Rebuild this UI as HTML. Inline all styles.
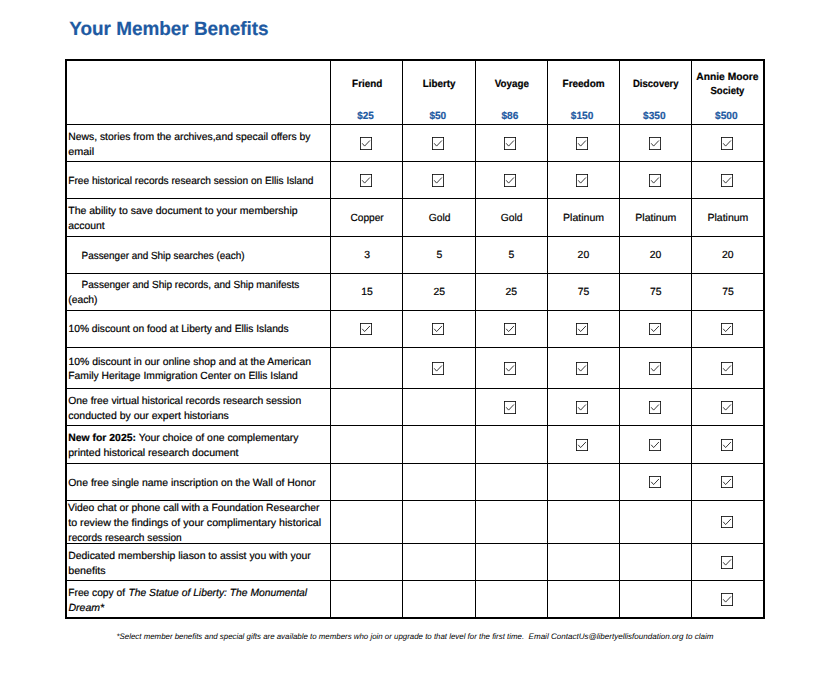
<!DOCTYPE html>
<html lang="en">
<head>
<meta charset="utf-8">
<title>Your Member Benefits</title>
<style>
html,body{margin:0;padding:0;background:#fff}
#pg{position:relative;width:836px;height:682px;overflow:hidden;background:#fff;font-family:"Liberation Sans", sans-serif;color:#000}
.t{position:absolute;white-space:pre;line-height:1;transform-origin:0 0;text-rendering:geometricPrecision;-webkit-text-stroke:0.2px currentColor;font-size:10.4px}
.h,.v,.f{position:absolute;background:#000}
.h{left:65px;width:700px;height:1px}.v{top:59px;height:560px;width:1px}
.c{position:absolute;width:12px;overflow:visible}
.u{color:#1e5aa2}
.n{-webkit-text-stroke:0}
</style>
</head>
<body>
<div id="pg">
<div class="f" style="left:65px;top:59px;width:700px;height:2px"></div>
<div class="f" style="left:65px;top:617px;width:700px;height:2px"></div>
<div class="f" style="left:65px;top:59px;width:2px;height:560px"></div>
<div class="f" style="left:763px;top:59px;width:2px;height:560px"></div>
<div class="h" style="top:124px"></div>
<div class="h" style="top:161px"></div>
<div class="h" style="top:198px"></div>
<div class="h" style="top:236px"></div>
<div class="h" style="top:273px"></div>
<div class="h" style="top:310px"></div>
<div class="h" style="top:347px"></div>
<div class="h" style="top:388px"></div>
<div class="h" style="top:425px"></div>
<div class="h" style="top:463px"></div>
<div class="h" style="top:500px"></div>
<div class="h" style="top:543px"></div>
<div class="h" style="top:580px"></div>
<div class="v" style="left:330px"></div>
<div class="v" style="left:402px"></div>
<div class="v" style="left:475px"></div>
<div class="v" style="left:547px"></div>
<div class="v" style="left:619px"></div>
<div class="v" style="left:691px"></div>
<svg class="c" style="left:360px;top:137px;height:13px" viewBox="0 0 12 13" width="12" height="13"><rect x=".5" y=".5" width="11" height="12" fill="#fff" stroke="#363636" stroke-width="1"/><path d="M0 0h1v1h-1zM11 0h1v1h-1zM0 12h1v1h-1zM11 12h1v1h-1z" fill="#111"/><path d="M2.2 6.3 L4.6 9.1 L9.9 3.5" fill="none" stroke="#3a3a3a" stroke-width="1"/></svg>
<svg class="c" style="left:432px;top:137px;height:13px" viewBox="0 0 12 13" width="12" height="13"><rect x=".5" y=".5" width="11" height="12" fill="#fff" stroke="#363636" stroke-width="1"/><path d="M0 0h1v1h-1zM11 0h1v1h-1zM0 12h1v1h-1zM11 12h1v1h-1z" fill="#111"/><path d="M2.2 6.3 L4.6 9.1 L9.9 3.5" fill="none" stroke="#3a3a3a" stroke-width="1"/></svg>
<svg class="c" style="left:504px;top:137px;height:13px" viewBox="0 0 12 13" width="12" height="13"><rect x=".5" y=".5" width="11" height="12" fill="#fff" stroke="#363636" stroke-width="1"/><path d="M0 0h1v1h-1zM11 0h1v1h-1zM0 12h1v1h-1zM11 12h1v1h-1z" fill="#111"/><path d="M2.2 6.3 L4.6 9.1 L9.9 3.5" fill="none" stroke="#3a3a3a" stroke-width="1"/></svg>
<svg class="c" style="left:576px;top:137px;height:13px" viewBox="0 0 12 13" width="12" height="13"><rect x=".5" y=".5" width="11" height="12" fill="#fff" stroke="#363636" stroke-width="1"/><path d="M0 0h1v1h-1zM11 0h1v1h-1zM0 12h1v1h-1zM11 12h1v1h-1z" fill="#111"/><path d="M2.2 6.3 L4.6 9.1 L9.9 3.5" fill="none" stroke="#3a3a3a" stroke-width="1"/></svg>
<svg class="c" style="left:649px;top:137px;height:13px" viewBox="0 0 12 13" width="12" height="13"><rect x=".5" y=".5" width="11" height="12" fill="#fff" stroke="#363636" stroke-width="1"/><path d="M0 0h1v1h-1zM11 0h1v1h-1zM0 12h1v1h-1zM11 12h1v1h-1z" fill="#111"/><path d="M2.2 6.3 L4.6 9.1 L9.9 3.5" fill="none" stroke="#3a3a3a" stroke-width="1"/></svg>
<svg class="c" style="left:721px;top:137px;height:13px" viewBox="0 0 12 13" width="12" height="13"><rect x=".5" y=".5" width="11" height="12" fill="#fff" stroke="#363636" stroke-width="1"/><path d="M0 0h1v1h-1zM11 0h1v1h-1zM0 12h1v1h-1zM11 12h1v1h-1z" fill="#111"/><path d="M2.2 6.3 L4.6 9.1 L9.9 3.5" fill="none" stroke="#3a3a3a" stroke-width="1"/></svg>
<svg class="c" style="left:360px;top:174px;height:13px" viewBox="0 0 12 13" width="12" height="13"><rect x=".5" y=".5" width="11" height="12" fill="#fff" stroke="#363636" stroke-width="1"/><path d="M0 0h1v1h-1zM11 0h1v1h-1zM0 12h1v1h-1zM11 12h1v1h-1z" fill="#111"/><path d="M2.2 6.3 L4.6 9.1 L9.9 3.5" fill="none" stroke="#3a3a3a" stroke-width="1"/></svg>
<svg class="c" style="left:432px;top:174px;height:13px" viewBox="0 0 12 13" width="12" height="13"><rect x=".5" y=".5" width="11" height="12" fill="#fff" stroke="#363636" stroke-width="1"/><path d="M0 0h1v1h-1zM11 0h1v1h-1zM0 12h1v1h-1zM11 12h1v1h-1z" fill="#111"/><path d="M2.2 6.3 L4.6 9.1 L9.9 3.5" fill="none" stroke="#3a3a3a" stroke-width="1"/></svg>
<svg class="c" style="left:504px;top:174px;height:13px" viewBox="0 0 12 13" width="12" height="13"><rect x=".5" y=".5" width="11" height="12" fill="#fff" stroke="#363636" stroke-width="1"/><path d="M0 0h1v1h-1zM11 0h1v1h-1zM0 12h1v1h-1zM11 12h1v1h-1z" fill="#111"/><path d="M2.2 6.3 L4.6 9.1 L9.9 3.5" fill="none" stroke="#3a3a3a" stroke-width="1"/></svg>
<svg class="c" style="left:576px;top:174px;height:13px" viewBox="0 0 12 13" width="12" height="13"><rect x=".5" y=".5" width="11" height="12" fill="#fff" stroke="#363636" stroke-width="1"/><path d="M0 0h1v1h-1zM11 0h1v1h-1zM0 12h1v1h-1zM11 12h1v1h-1z" fill="#111"/><path d="M2.2 6.3 L4.6 9.1 L9.9 3.5" fill="none" stroke="#3a3a3a" stroke-width="1"/></svg>
<svg class="c" style="left:649px;top:174px;height:13px" viewBox="0 0 12 13" width="12" height="13"><rect x=".5" y=".5" width="11" height="12" fill="#fff" stroke="#363636" stroke-width="1"/><path d="M0 0h1v1h-1zM11 0h1v1h-1zM0 12h1v1h-1zM11 12h1v1h-1z" fill="#111"/><path d="M2.2 6.3 L4.6 9.1 L9.9 3.5" fill="none" stroke="#3a3a3a" stroke-width="1"/></svg>
<svg class="c" style="left:721px;top:174px;height:13px" viewBox="0 0 12 13" width="12" height="13"><rect x=".5" y=".5" width="11" height="12" fill="#fff" stroke="#363636" stroke-width="1"/><path d="M0 0h1v1h-1zM11 0h1v1h-1zM0 12h1v1h-1zM11 12h1v1h-1z" fill="#111"/><path d="M2.2 6.3 L4.6 9.1 L9.9 3.5" fill="none" stroke="#3a3a3a" stroke-width="1"/></svg>
<svg class="c" style="left:360px;top:323px;height:12px" viewBox="0 0 12 12" width="12" height="12"><rect x=".5" y=".5" width="11" height="11" fill="#fff" stroke="#363636" stroke-width="1"/><path d="M0 0h1v1h-1zM11 0h1v1h-1zM0 11h1v1h-1zM11 11h1v1h-1z" fill="#111"/><path d="M2.2 5.8 L4.6 8.6 L9.9 3.0" fill="none" stroke="#3a3a3a" stroke-width="1"/></svg>
<svg class="c" style="left:432px;top:323px;height:12px" viewBox="0 0 12 12" width="12" height="12"><rect x=".5" y=".5" width="11" height="11" fill="#fff" stroke="#363636" stroke-width="1"/><path d="M0 0h1v1h-1zM11 0h1v1h-1zM0 11h1v1h-1zM11 11h1v1h-1z" fill="#111"/><path d="M2.2 5.8 L4.6 8.6 L9.9 3.0" fill="none" stroke="#3a3a3a" stroke-width="1"/></svg>
<svg class="c" style="left:504px;top:323px;height:12px" viewBox="0 0 12 12" width="12" height="12"><rect x=".5" y=".5" width="11" height="11" fill="#fff" stroke="#363636" stroke-width="1"/><path d="M0 0h1v1h-1zM11 0h1v1h-1zM0 11h1v1h-1zM11 11h1v1h-1z" fill="#111"/><path d="M2.2 5.8 L4.6 8.6 L9.9 3.0" fill="none" stroke="#3a3a3a" stroke-width="1"/></svg>
<svg class="c" style="left:576px;top:323px;height:12px" viewBox="0 0 12 12" width="12" height="12"><rect x=".5" y=".5" width="11" height="11" fill="#fff" stroke="#363636" stroke-width="1"/><path d="M0 0h1v1h-1zM11 0h1v1h-1zM0 11h1v1h-1zM11 11h1v1h-1z" fill="#111"/><path d="M2.2 5.8 L4.6 8.6 L9.9 3.0" fill="none" stroke="#3a3a3a" stroke-width="1"/></svg>
<svg class="c" style="left:649px;top:323px;height:12px" viewBox="0 0 12 12" width="12" height="12"><rect x=".5" y=".5" width="11" height="11" fill="#fff" stroke="#363636" stroke-width="1"/><path d="M0 0h1v1h-1zM11 0h1v1h-1zM0 11h1v1h-1zM11 11h1v1h-1z" fill="#111"/><path d="M2.2 5.8 L4.6 8.6 L9.9 3.0" fill="none" stroke="#3a3a3a" stroke-width="1"/></svg>
<svg class="c" style="left:721px;top:323px;height:12px" viewBox="0 0 12 12" width="12" height="12"><rect x=".5" y=".5" width="11" height="11" fill="#fff" stroke="#363636" stroke-width="1"/><path d="M0 0h1v1h-1zM11 0h1v1h-1zM0 11h1v1h-1zM11 11h1v1h-1z" fill="#111"/><path d="M2.2 5.8 L4.6 8.6 L9.9 3.0" fill="none" stroke="#3a3a3a" stroke-width="1"/></svg>
<svg class="c" style="left:432px;top:362px;height:13px" viewBox="0 0 12 13" width="12" height="13"><rect x=".5" y=".5" width="11" height="12" fill="#fff" stroke="#363636" stroke-width="1"/><path d="M0 0h1v1h-1zM11 0h1v1h-1zM0 12h1v1h-1zM11 12h1v1h-1z" fill="#111"/><path d="M2.2 6.3 L4.6 9.1 L9.9 3.5" fill="none" stroke="#3a3a3a" stroke-width="1"/></svg>
<svg class="c" style="left:504px;top:362px;height:13px" viewBox="0 0 12 13" width="12" height="13"><rect x=".5" y=".5" width="11" height="12" fill="#fff" stroke="#363636" stroke-width="1"/><path d="M0 0h1v1h-1zM11 0h1v1h-1zM0 12h1v1h-1zM11 12h1v1h-1z" fill="#111"/><path d="M2.2 6.3 L4.6 9.1 L9.9 3.5" fill="none" stroke="#3a3a3a" stroke-width="1"/></svg>
<svg class="c" style="left:576px;top:362px;height:13px" viewBox="0 0 12 13" width="12" height="13"><rect x=".5" y=".5" width="11" height="12" fill="#fff" stroke="#363636" stroke-width="1"/><path d="M0 0h1v1h-1zM11 0h1v1h-1zM0 12h1v1h-1zM11 12h1v1h-1z" fill="#111"/><path d="M2.2 6.3 L4.6 9.1 L9.9 3.5" fill="none" stroke="#3a3a3a" stroke-width="1"/></svg>
<svg class="c" style="left:649px;top:362px;height:13px" viewBox="0 0 12 13" width="12" height="13"><rect x=".5" y=".5" width="11" height="12" fill="#fff" stroke="#363636" stroke-width="1"/><path d="M0 0h1v1h-1zM11 0h1v1h-1zM0 12h1v1h-1zM11 12h1v1h-1z" fill="#111"/><path d="M2.2 6.3 L4.6 9.1 L9.9 3.5" fill="none" stroke="#3a3a3a" stroke-width="1"/></svg>
<svg class="c" style="left:721px;top:362px;height:13px" viewBox="0 0 12 13" width="12" height="13"><rect x=".5" y=".5" width="11" height="12" fill="#fff" stroke="#363636" stroke-width="1"/><path d="M0 0h1v1h-1zM11 0h1v1h-1zM0 12h1v1h-1zM11 12h1v1h-1z" fill="#111"/><path d="M2.2 6.3 L4.6 9.1 L9.9 3.5" fill="none" stroke="#3a3a3a" stroke-width="1"/></svg>
<svg class="c" style="left:504px;top:401px;height:13px" viewBox="0 0 12 13" width="12" height="13"><rect x=".5" y=".5" width="11" height="12" fill="#fff" stroke="#363636" stroke-width="1"/><path d="M0 0h1v1h-1zM11 0h1v1h-1zM0 12h1v1h-1zM11 12h1v1h-1z" fill="#111"/><path d="M2.2 6.3 L4.6 9.1 L9.9 3.5" fill="none" stroke="#3a3a3a" stroke-width="1"/></svg>
<svg class="c" style="left:576px;top:401px;height:13px" viewBox="0 0 12 13" width="12" height="13"><rect x=".5" y=".5" width="11" height="12" fill="#fff" stroke="#363636" stroke-width="1"/><path d="M0 0h1v1h-1zM11 0h1v1h-1zM0 12h1v1h-1zM11 12h1v1h-1z" fill="#111"/><path d="M2.2 6.3 L4.6 9.1 L9.9 3.5" fill="none" stroke="#3a3a3a" stroke-width="1"/></svg>
<svg class="c" style="left:649px;top:401px;height:13px" viewBox="0 0 12 13" width="12" height="13"><rect x=".5" y=".5" width="11" height="12" fill="#fff" stroke="#363636" stroke-width="1"/><path d="M0 0h1v1h-1zM11 0h1v1h-1zM0 12h1v1h-1zM11 12h1v1h-1z" fill="#111"/><path d="M2.2 6.3 L4.6 9.1 L9.9 3.5" fill="none" stroke="#3a3a3a" stroke-width="1"/></svg>
<svg class="c" style="left:721px;top:401px;height:13px" viewBox="0 0 12 13" width="12" height="13"><rect x=".5" y=".5" width="11" height="12" fill="#fff" stroke="#363636" stroke-width="1"/><path d="M0 0h1v1h-1zM11 0h1v1h-1zM0 12h1v1h-1zM11 12h1v1h-1z" fill="#111"/><path d="M2.2 6.3 L4.6 9.1 L9.9 3.5" fill="none" stroke="#3a3a3a" stroke-width="1"/></svg>
<svg class="c" style="left:576px;top:439px;height:12px" viewBox="0 0 12 12" width="12" height="12"><rect x=".5" y=".5" width="11" height="11" fill="#fff" stroke="#363636" stroke-width="1"/><path d="M0 0h1v1h-1zM11 0h1v1h-1zM0 11h1v1h-1zM11 11h1v1h-1z" fill="#111"/><path d="M2.2 5.8 L4.6 8.6 L9.9 3.0" fill="none" stroke="#3a3a3a" stroke-width="1"/></svg>
<svg class="c" style="left:649px;top:439px;height:12px" viewBox="0 0 12 12" width="12" height="12"><rect x=".5" y=".5" width="11" height="11" fill="#fff" stroke="#363636" stroke-width="1"/><path d="M0 0h1v1h-1zM11 0h1v1h-1zM0 11h1v1h-1zM11 11h1v1h-1z" fill="#111"/><path d="M2.2 5.8 L4.6 8.6 L9.9 3.0" fill="none" stroke="#3a3a3a" stroke-width="1"/></svg>
<svg class="c" style="left:721px;top:439px;height:12px" viewBox="0 0 12 12" width="12" height="12"><rect x=".5" y=".5" width="11" height="11" fill="#fff" stroke="#363636" stroke-width="1"/><path d="M0 0h1v1h-1zM11 0h1v1h-1zM0 11h1v1h-1zM11 11h1v1h-1z" fill="#111"/><path d="M2.2 5.8 L4.6 8.6 L9.9 3.0" fill="none" stroke="#3a3a3a" stroke-width="1"/></svg>
<svg class="c" style="left:649px;top:476px;height:12px" viewBox="0 0 12 12" width="12" height="12"><rect x=".5" y=".5" width="11" height="11" fill="#fff" stroke="#363636" stroke-width="1"/><path d="M0 0h1v1h-1zM11 0h1v1h-1zM0 11h1v1h-1zM11 11h1v1h-1z" fill="#111"/><path d="M2.2 5.8 L4.6 8.6 L9.9 3.0" fill="none" stroke="#3a3a3a" stroke-width="1"/></svg>
<svg class="c" style="left:721px;top:476px;height:12px" viewBox="0 0 12 12" width="12" height="12"><rect x=".5" y=".5" width="11" height="11" fill="#fff" stroke="#363636" stroke-width="1"/><path d="M0 0h1v1h-1zM11 0h1v1h-1zM0 11h1v1h-1zM11 11h1v1h-1z" fill="#111"/><path d="M2.2 5.8 L4.6 8.6 L9.9 3.0" fill="none" stroke="#3a3a3a" stroke-width="1"/></svg>
<svg class="c" style="left:721px;top:516px;height:12px" viewBox="0 0 12 12" width="12" height="12"><rect x=".5" y=".5" width="11" height="11" fill="#fff" stroke="#363636" stroke-width="1"/><path d="M0 0h1v1h-1zM11 0h1v1h-1zM0 11h1v1h-1zM11 11h1v1h-1z" fill="#111"/><path d="M2.2 5.8 L4.6 8.6 L9.9 3.0" fill="none" stroke="#3a3a3a" stroke-width="1"/></svg>
<svg class="c" style="left:721px;top:556px;height:13px" viewBox="0 0 12 13" width="12" height="13"><rect x=".5" y=".5" width="11" height="12" fill="#fff" stroke="#363636" stroke-width="1"/><path d="M0 0h1v1h-1zM11 0h1v1h-1zM0 12h1v1h-1zM11 12h1v1h-1z" fill="#111"/><path d="M2.2 6.3 L4.6 9.1 L9.9 3.5" fill="none" stroke="#3a3a3a" stroke-width="1"/></svg>
<svg class="c" style="left:721px;top:593px;height:13px" viewBox="0 0 12 13" width="12" height="13"><rect x=".5" y=".5" width="11" height="12" fill="#fff" stroke="#363636" stroke-width="1"/><path d="M0 0h1v1h-1zM11 0h1v1h-1zM0 12h1v1h-1zM11 12h1v1h-1z" fill="#111"/><path d="M2.2 6.3 L4.6 9.1 L9.9 3.5" fill="none" stroke="#3a3a3a" stroke-width="1"/></svg>
<div class="t u" style="left:69px;top:20px;transform:translateX(0.31px) scaleX(0.9802);font-size:19.3px"><b>Your Member Benefits</b></div>
<div class="t" style="left:68px;top:133px;transform:translateX(0.25px) scaleX(0.9969)">News, stories from the archives,and specail offers by</div>
<div class="t" style="left:68px;top:148px;transform:translateX(0.23px) scaleX(1.0421)">email</div>
<div class="t" style="left:68px;top:177px;transform:translateX(0.27px) scaleX(0.9762)">Free historical records research session on Ellis Island</div>
<div class="t" style="left:68px;top:207px;transform:translateX(0.25px) scaleX(1.0104)">The ability to save document to your membership</div>
<div class="t" style="left:68px;top:222px;transform:translateX(0.25px) scaleX(1.0000)">account</div>
<div class="t" style="left:81px;top:252px;transform:translateX(0.58px) scaleX(0.9534)">Passenger and Ship searches (each)</div>
<div class="t" style="left:81px;top:281px;transform:translateX(0.57px) scaleX(0.9668)">Passenger and Ship records, and Ship manifests</div>
<div class="t" style="left:68px;top:296px;transform:translateX(0.26px) scaleX(0.9929)">(each)</div>
<div class="t" style="left:68px;top:325px;transform:translateX(0.51px) scaleX(0.9849)">10% discount on food at Liberty and Ellis Islands</div>
<div class="t" style="left:68px;top:358px;transform:translateX(0.50px) scaleX(1.0000)">10% discount in our online shop and at the American</div>
<div class="t" style="left:68px;top:372px;transform:translateX(0.25px) scaleX(0.9939)">Family Heritage Immigration Center on Ellis Island</div>
<div class="t" style="left:68px;top:397px;transform:translateX(0.25px) scaleX(0.9957)">One free virtual historical records research session</div>
<div class="t" style="left:68px;top:412px;transform:translateX(0.24px) scaleX(1.0111)">conducted by our expert historians</div>
<div class="t" style="left:68px;top:434px;transform:translateX(0.25px) scaleX(1.0017)"><b>New for 2025:</b> Your choice of one complementary</div>
<div class="t" style="left:68px;top:449px;transform:translateX(0.24px) scaleX(1.0165)">printed historical research document</div>
<div class="t" style="left:68px;top:479px;transform:translateX(0.25px) scaleX(1.0051)">One free single name inscription on the Wall of Honor</div>
<div class="t" style="left:68px;top:504px;transform:translateX(0.00px) scaleX(0.9950)">Video chat or phone call with a Foundation Researcher</div>
<div class="t" style="left:68px;top:519px;transform:translateX(0.24px) scaleX(1.0254)">to review the findings of your complimentary historical</div>
<div class="t" style="left:68px;top:534px;transform:translateX(0.27px) scaleX(0.9778)">records research session</div>
<div class="t" style="left:68px;top:552px;transform:translateX(0.25px) scaleX(1.0021)">Dedicated membership liason to assist you with your</div>
<div class="t" style="left:68px;top:567px;transform:translateX(0.23px) scaleX(1.0270)">benefits</div>
<div class="t" style="left:68px;top:589px;transform:translateX(0.26px) scaleX(0.9825)">Free copy of</div>
<div class="t" style="left:128px;top:589px;transform:translateX(0.41px) scaleX(0.9916)"><i>The Statue of Liberty: The Monumental</i></div>
<div class="t" style="left:68px;top:604px;transform:translateX(0.50px) scaleX(1.0142)"><i>Dream*</i></div>
<div class="t n" style="left:116px;top:633px;transform:translateX(0.51px) scaleX(0.9845);font-size:8.0px"><i>*Select member benefits and special gifts are available to members who join or upgrade to that level for the first time.</i></div>
<div class="t n" style="left:528px;top:633px;transform:translateX(0.55px) scaleX(1.0066);font-size:8.0px"><i>Email ContactUs@libertyellisfoundation.org to claim</i></div>
<div class="t" style="left:352px;top:80px;transform:translateX(0.11px) scaleX(0.9504)"><b>Friend</b></div>
<div class="t" style="left:422px;top:80px;transform:translateX(0.74px) scaleX(0.9481)"><b>Liberty</b></div>
<div class="t" style="left:494px;top:80px;transform:translateX(0.71px) scaleX(0.9437)"><b>Voyage</b></div>
<div class="t" style="left:562px;top:80px;transform:translateX(0.56px) scaleX(0.9588)"><b>Freedom</b></div>
<div class="t" style="left:632px;top:80px;transform:translateX(0.94px) scaleX(0.9179)"><b>Discovery</b></div>
<div class="t" style="left:696px;top:73px;transform:translateX(0.30px) scaleX(0.9880)"><b>Annie Moore</b></div>
<div class="t" style="left:710px;top:87px;transform:translateX(0.49px) scaleX(0.9178)"><b>Society</b></div>
<div class="t u" style="left:357px;top:112px;transform:translateX(0.26px) scaleX(0.9552)"><b>$25</b></div>
<div class="t u" style="left:429px;top:112px;transform:translateX(0.38px) scaleX(0.9701)"><b>$50</b></div>
<div class="t u" style="left:501px;top:112px;transform:translateX(0.48px) scaleX(0.9701)"><b>$86</b></div>
<div class="t u" style="left:570px;top:112px;transform:translateX(0.81px) scaleX(0.9778)"><b>$150</b></div>
<div class="t u" style="left:643px;top:112px;transform:translateX(0.06px) scaleX(0.9778)"><b>$350</b></div>
<div class="t u" style="left:715px;top:112px;transform:translateX(0.01px) scaleX(0.9778)"><b>$500</b></div>
<div class="t" style="left:350px;top:214px;transform:translateX(0.39px) scaleX(0.9776)">Copper</div>
<div class="t" style="left:428px;top:214px;transform:translateX(0.76px) scaleX(0.9880)">Gold</div>
<div class="t" style="left:500px;top:214px;transform:translateX(0.71px) scaleX(0.9880)">Gold</div>
<div class="t" style="left:563px;top:214px;transform:translateX(0.09px) scaleX(1.0128)">Platinum</div>
<div class="t" style="left:635px;top:214px;transform:translateX(0.34px) scaleX(1.0128)">Platinum</div>
<div class="t" style="left:707px;top:214px;transform:translateX(0.44px) scaleX(1.0128)">Platinum</div>
<div class="t" style="left:364px;top:251px;transform:translateX(0.23px) scaleX(1.0000)">3</div>
<div class="t" style="left:436px;top:251px;transform:translateX(0.48px) scaleX(1.0000)">5</div>
<div class="t" style="left:508px;top:251px;transform:translateX(0.58px) scaleX(1.0000)">5</div>
<div class="t" style="left:577px;top:251px;transform:translateX(0.62px) scaleX(1.0000)">20</div>
<div class="t" style="left:649px;top:251px;transform:translateX(0.83px) scaleX(1.0000)">20</div>
<div class="t" style="left:722px;top:251px;transform:translateX(0.02px) scaleX(1.0000)">20</div>
<div class="t" style="left:361px;top:288px;transform:translateX(0.23px) scaleX(1.0000)">15</div>
<div class="t" style="left:433px;top:288px;transform:translateX(0.45px) scaleX(1.0000)">25</div>
<div class="t" style="left:505px;top:288px;transform:translateX(0.55px) scaleX(1.0000)">25</div>
<div class="t" style="left:577px;top:288px;transform:translateX(0.75px) scaleX(1.0000)">75</div>
<div class="t" style="left:649px;top:288px;transform:translateX(0.95px) scaleX(1.0000)">75</div>
<div class="t" style="left:722px;top:288px;transform:translateX(0.15px) scaleX(1.0000)">75</div>
</div>
</body>
</html>
